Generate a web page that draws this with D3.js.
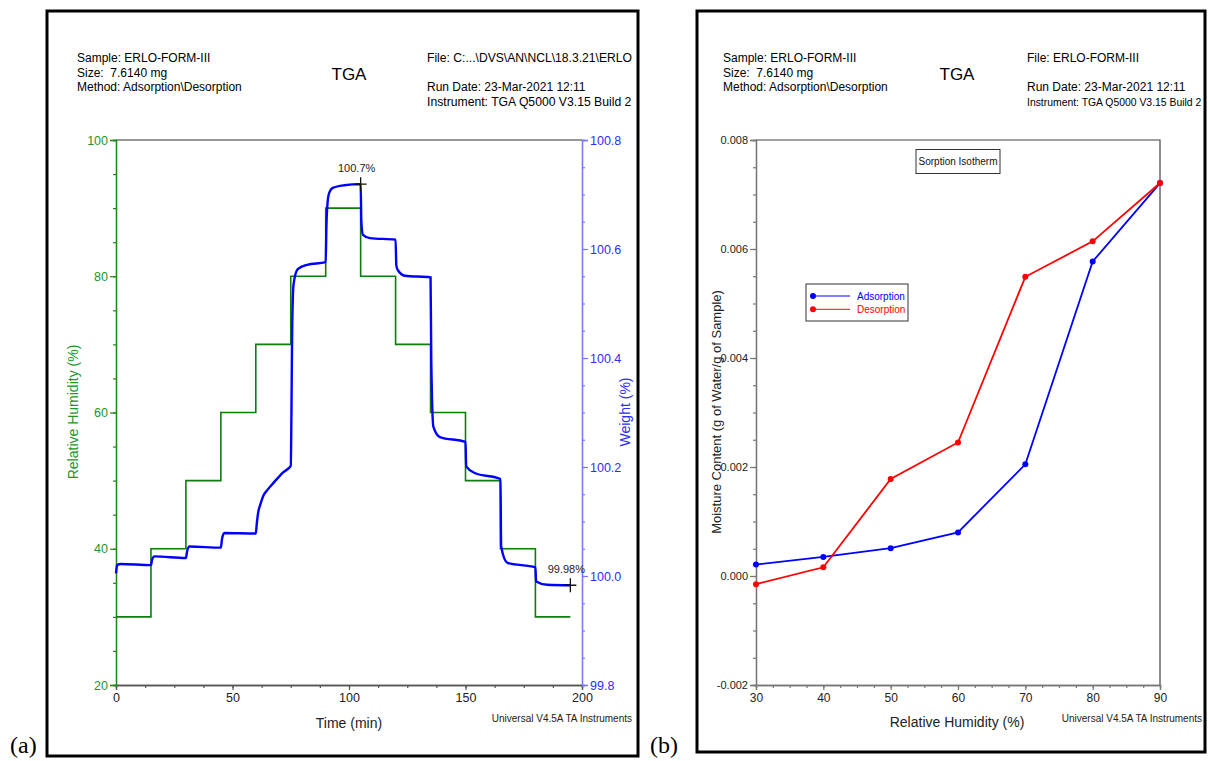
<!DOCTYPE html>
<html><head><meta charset="utf-8">
<script src="https://cdn.jsdelivr.net/npm/d3@7"></script>
<style>
body{margin:0;background:#fff}
svg{font-family:"Liberation Sans",Arial,sans-serif}
</style>
</head><body>
<svg id="c" width="1208" height="761"></svg>
<script>
// ---- Panel (a) data ----
const rhStepTime = [0,15,30,45,60,75,90,105,120,135,150,165,180,195];
const rhStepValue = [30,40,50,60,70,80,90,80,70,60,50,40,30,30];
const weightTime = [0,0.5,2,15,15.5,16.5,30,30.5,31.5,45,45.5,46.5,60,60.4,61,62,63.1,65,67.4,69.5,71.7,75,75.3,75.6,76.2,78,82,90,90.3,90.8,91.5,93,98,105,105.3,106,109,120,120.3,121,124,135,135.3,136.2,139,150,150.3,154,165,165.3,168,180,180.3,185,195];
const weightPct = [100.005,100.02,100.022,100.02,100.03,100.036,100.033,100.045,100.054,100.052,100.068,100.079,100.078,100.095,100.116,100.132,100.146,100.158,100.170,100.180,100.190,100.202,100.30,100.45,100.535,100.563,100.571,100.576,100.64,100.685,100.703,100.712,100.717,100.719,100.65,100.626,100.620,100.617,100.57,100.561,100.551,100.548,100.40,100.274,100.255,100.246,100.201,100.189,100.178,100.054,100.024,100.016,99.990,99.984,99.983];
const timeTicks = [0,50,100,150,200];
const rhTicks = [20,40,60,80,100];
const weightTicks = [99.8,100.0,100.2,100.4,100.6,100.8];
const weightTickLabels = ["99.8","100.0","100.2","100.4","100.6","100.8"];
const markers = [{t:105,w:100.719,label:"100.7%"},{t:195,w:99.983,label:"99.98%"}];

// ---- Panel (b) data ----
const rhLevels = [30,40,50,60,70,80,90];
const adsorption = [0.00021,0.00035,0.00051,0.00080,0.00205,0.00577,0.00721];
const desorption = [-0.00015,0.00016,0.00178,0.00245,0.00549,0.00614,0.00721];
const rhAxisTicks = [30,40,50,60,70,80,90];
const moistureTicks = [-0.002,0,0.002,0.004,0.006,0.008];
const moistureTickLabels = ["-0.002","0.000","0.002","0.004","0.006","0.008"];

const svg = d3.select("#c");
const defs = svg.append("defs");

function frame(id, x0, y0, x1, y1){
  defs.append("clipPath").attr("id",id).append("rect").attr("x",x0).attr("y",y0).attr("width",x1-x0).attr("height",y1-y0);
  svg.append("rect").attr("x",x0).attr("y",y0).attr("width",x1-x0).attr("height",y1-y0)
    .attr("fill","none").attr("stroke","#000").attr("stroke-width",3);
}
function header(g, xL, xTGA, xR, fileText, fileLen, instFs){
  const fs = 12;
  g.append("text").attr("x",xL).attr("y",62).attr("font-size",fs).text("Sample: ERLO-FORM-III");
  g.append("text").attr("x",xL).attr("y",77).attr("font-size",fs).attr("xml:space","preserve").text("Size:  7.6140 mg");
  g.append("text").attr("x",xL).attr("y",91).attr("font-size",fs).text("Method: Adsorption\\Desorption");
  g.append("text").attr("x",xTGA).attr("y",80).attr("font-size",17).attr("text-anchor","middle").text("TGA");
  const f = g.append("text").attr("x",xR).attr("y",62).attr("font-size",fs).text(fileText);
  if(fileLen) f.attr("textLength",fileLen).attr("lengthAdjust","spacingAndGlyphs");
  g.append("text").attr("x",xR).attr("y",91).attr("font-size",fs).text("Run Date: 23-Mar-2021 12:11");
  g.append("text").attr("x",xR).attr("y",106).attr("font-size",instFs).text("Instrument: TGA Q5000 V3.15 Build 2");
}
function styleAxis(g, lineColor, textColor, fs){
  g.select(".domain").attr("stroke",lineColor).attr("stroke-width",1.3);
  g.selectAll(".tick line").attr("stroke",lineColor).attr("stroke-width",1.2);
  g.selectAll(".tick text").attr("fill",textColor).attr("font-size",fs).attr("font-family","Liberation Sans, Arial, sans-serif");
}
function minorTicks(lo, hi, step){
  const out=[]; for(let v=lo; v<=hi+1e-9; v+=step) out.push(+v.toFixed(6)); return out;
}

// ===== Panel (a) =====
frame("clipA",47,11,638,756);
const gA = svg.append("g").attr("clip-path","url(#clipA)");
header(gA,77,349,427,"File: C:...\\DVS\\AN\\NCL\\18.3.21\\ERLO",205,12.2);

const xA = d3.scaleLinear().domain([0,200]).range([116,582]);
const yRH = d3.scaleLinear().domain([20,100]).range([685,140]);
const yW = d3.scaleLinear().domain([99.8,100.8]).range([685,140]);

gA.append("line").attr("x1",xA(0)).attr("x2",xA(200)).attr("y1",yRH(100)).attr("y2",yRH(100)).attr("stroke","#333").attr("stroke-width",1.2);

const gxA = gA.append("g").attr("transform","translate(0,685)");
gxA.append("g").call(d3.axisBottom(xA).tickValues(minorTicks(0,200,12.5)).tickSize(3).tickFormat("")).call(g=>styleAxis(g,"#555","#222",12));
gxA.append("g").call(d3.axisBottom(xA).tickValues(timeTicks).tickSize(5).tickPadding(3)).call(g=>styleAxis(g,"#555","#222",12.5));

const gyA = gA.append("g").attr("transform","translate(116,0)");
gyA.append("g").call(d3.axisLeft(yRH).tickValues(minorTicks(20,100,5)).tickSize(3).tickFormat("")).call(g=>styleAxis(g,"#1b8a1b","#1b8a1b",12));
gyA.append("g").call(d3.axisLeft(yRH).tickValues(rhTicks).tickSize(6).tickPadding(2)).call(g=>styleAxis(g,"#1b8a1b","#23952a",12.5));

const gyW = gA.append("g").attr("transform","translate(582,0)");
gyW.append("g").call(d3.axisRight(yW).tickValues(minorTicks(99.8,100.8,0.05)).tickSize(3).tickFormat("")).call(g=>styleAxis(g,"#7878ff","#2e2eff",12));
gyW.append("g").call(d3.axisRight(yW).tickValues(weightTicks).tickSize(6).tickPadding(2).tickFormat((d,i)=>weightTickLabels[i])).call(g=>styleAxis(g,"#7878ff","#2e2eff",12.5));

gA.append("text").attr("transform","translate(78,412) rotate(-90)").attr("text-anchor","middle").attr("font-size",14).attr("fill","#23952a").text("Relative Humidity (%)");
gA.append("text").attr("transform","translate(630,412) rotate(-90)").attr("text-anchor","middle").attr("font-size",14).attr("fill","#2e2eff").text("Weight (%)");
gA.append("text").attr("x",349).attr("y",728).attr("text-anchor","middle").attr("font-size",14).attr("fill","#222").text("Time (min)");
gA.append("text").attr("x",632).attr("y",722).attr("text-anchor","end").attr("font-size",10).attr("fill","#222").text("Universal V4.5A TA Instruments");

const rhData = rhStepTime.map((t,i)=>({t, v:rhStepValue[i]}));
gA.append("path").datum(rhData)
  .attr("d", d3.line().x(d=>xA(d.t)).y(d=>yRH(d.v)).curve(d3.curveStepAfter))
  .attr("fill","none").attr("stroke","#0d7d0d").attr("stroke-width",1.6);

const wData = weightTime.map((t,i)=>({t, w:weightPct[i]}));
gA.append("path").datum(wData)
  .attr("d", d3.line().x(d=>xA(d.t)).y(d=>yW(d.w)).curve(d3.curveMonotoneX))
  .attr("fill","none").attr("stroke","#0000ff").attr("stroke-width",2.4);

markers.forEach(m=>{
  const cx=xA(m.t), cy=yW(m.w);
  gA.append("path").attr("d",`M${cx-6},${cy}H${cx+6}M${cx},${cy-7}V${cy+7}`).attr("stroke","#111").attr("stroke-width",1.3);
  gA.append("text").attr("x",cx-4).attr("y",cy-12).attr("text-anchor","middle").attr("font-size",11).attr("fill","#222").text(m.label);
});

// ===== Panel (b) =====
frame("clipB",697,11,1205,752);
const gB = svg.append("g").attr("clip-path","url(#clipB)");
header(gB,723,957,1027,"File: ERLO-FORM-III",null,10.4);

const xB = d3.scaleLinear().domain([30,90]).range([756,1160]);
const yB = d3.scaleLinear().domain([-0.002,0.008]).range([685,140]);

gB.append("path").attr("d",`M${xB(30)},${yB(0.008)}H${xB(90)}V${yB(-0.002)}`).attr("fill","none").attr("stroke","#444").attr("stroke-width",1.2);

const gxB = gB.append("g").attr("transform","translate(0,685)");
gxB.append("g").call(d3.axisBottom(xB).tickValues(minorTicks(30,90,2.5)).tickSize(3).tickFormat("")).call(g=>styleAxis(g,"#777","#222",12));
gxB.append("g").call(d3.axisBottom(xB).tickValues(rhAxisTicks).tickSize(5).tickPadding(3)).call(g=>styleAxis(g,"#777","#222",12));

const gyB = gB.append("g").attr("transform","translate(756,0)");
gyB.append("g").call(d3.axisLeft(yB).tickValues(minorTicks(-0.002,0.008,0.0005)).tickSize(3).tickFormat("")).call(g=>styleAxis(g,"#777","#222",12));
gyB.append("g").call(d3.axisLeft(yB).tickValues(moistureTicks).tickSize(6).tickPadding(2).tickFormat((d,i)=>moistureTickLabels[i])).call(g=>styleAxis(g,"#777","#222",11));

gB.append("text").attr("transform","translate(721,412) rotate(-90)").attr("text-anchor","middle").attr("font-size",13).attr("fill","#222").text("Moisture Content (g of Water/g of Sample)");
gB.append("text").attr("x",957).attr("y",727).attr("text-anchor","middle").attr("font-size",14).attr("fill","#222").text("Relative Humidity (%)");
gB.append("text").attr("x",1202).attr("y",722).attr("text-anchor","end").attr("font-size",10).attr("fill","#222").text("Universal V4.5A TA Instruments");

gB.append("rect").attr("x",916).attr("y",149.5).attr("width",84).attr("height",24).attr("fill","#fff").attr("stroke","#333").attr("stroke-width",1);
gB.append("text").attr("x",958).attr("y",165).attr("text-anchor","middle").attr("font-size",10).attr("fill","#111").text("Sorption Isotherm");

const series = [{name:"Adsorption", vals:adsorption, color:"#0000ff"},{name:"Desorption", vals:desorption, color:"#ff0000"}];
series.forEach(s=>{
  const pts = rhLevels.map((r,i)=>({r, v:s.vals[i]}));
  gB.append("path").datum(pts).attr("d",d3.line().x(d=>xB(d.r)).y(d=>yB(d.v)))
    .attr("fill","none").attr("stroke",s.color).attr("stroke-width",1.8);
  gB.selectAll(null).data(pts).enter().append("circle")
    .attr("cx",d=>xB(d.r)).attr("cy",d=>yB(d.v)).attr("r",3).attr("fill",s.color);
});

const leg = gB.append("g");
leg.append("rect").attr("x",806).attr("y",284).attr("width",102).attr("height",37).attr("fill","#fff").attr("stroke","#333").attr("stroke-width",1);
series.forEach((s,i)=>{
  const y = 296 + i*13.3;
  leg.append("line").attr("x1",813).attr("x2",850).attr("y1",y).attr("y2",y).attr("stroke",s.color).attr("stroke-width",1);
  leg.append("circle").attr("cx",813).attr("cy",y).attr("r",3).attr("fill",s.color);
  leg.append("text").attr("x",857).attr("y",y+3.5).attr("font-size",10).attr("fill",s.color).text(s.name);
});

svg.append("text").attr("x",10).attr("y",753).attr("font-family","Liberation Serif, Times New Roman, serif").attr("font-size",24).text("(a)");
svg.append("text").attr("x",650).attr("y",753).attr("font-family","Liberation Serif, Times New Roman, serif").attr("font-size",24).text("(b)");
</script>
</body></html>
